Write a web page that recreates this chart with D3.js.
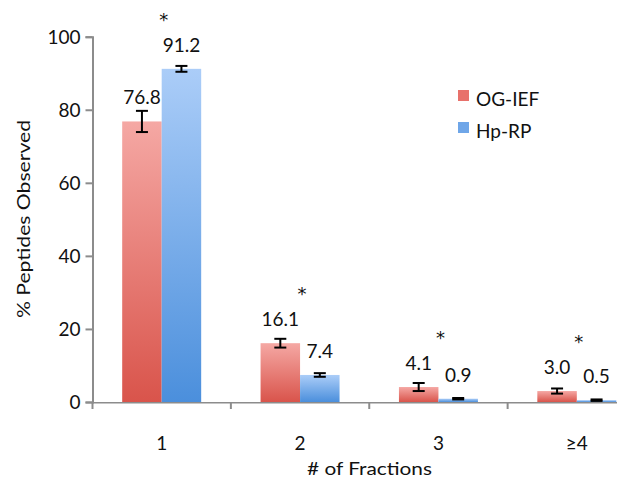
<!DOCTYPE html>
<html>
<head>
<meta charset="utf-8">
<script src="https://cdn.jsdelivr.net/npm/d3@7"></script>
<style>
  body { margin: 0; background: #fff; }
  svg { display: block; font-family: Lato, "Open Sans", sans-serif; }
</style>
</head>
<body>
<svg width="639" height="485"></svg>
<script>
// chart values
var categories = ["1", "2", "3", "\u22654"];
var seriesNames = ["OG-IEF", "Hp-RP"];
var ogIef = [76.8, 16.1, 4.1, 3.0];
var hpRp = [91.2, 7.4, 0.9, 0.5];
var ogIefErr = [2.9, 1.2, 1.1, 0.7];
var hpRpErr = [0.8, 0.5, 0.2, 0.2];
var significant = [true, true, true, true];
var yTicks = [0, 20, 40, 60, 80, 100];

var svg = d3.select("svg");

// gradients, one per series
var defs = svg.append("defs");
var grads = [
  { id: "gRed", top: "#f5a8a4", bottom: "#d9544b", key: "#e8716b" },
  { id: "gBlue", top: "#abcdf8", bottom: "#4b8fdc", key: "#6fa6e8" }
];
grads.forEach(function(g){
  var lg = defs.append("linearGradient").attr("id", g.id)
    .attr("x1", 0).attr("y1", 0).attr("x2", 0).attr("y2", 1);
  lg.append("stop").attr("offset", "0%").attr("stop-color", g.top);
  lg.append("stop").attr("offset", "100%").attr("stop-color", g.bottom);
});
defs.append("clipPath").attr("id", "axisClip")
  .append("rect").attr("x", 0).attr("y", 0).attr("width", 617).attr("height", 485);

var x = d3.scaleBand().domain(categories).range([92.5, 646]).paddingInner(0).paddingOuter(0);
var xs = d3.scaleBand().domain(seriesNames).range([0, x.bandwidth()]).paddingInner(0).paddingOuter(0.752);
var y = d3.scaleLinear().domain([0, 100]).range([402, 36.7]);

var data = [];
categories.forEach(function(c, i){
  data.push({ cat: c, s: "OG-IEF", v: ogIef[i], e: ogIefErr[i], fill: "url(#gRed)" });
  data.push({ cat: c, s: "Hp-RP", v: hpRp[i], e: hpRpErr[i], fill: "url(#gBlue)" });
});

// bars
svg.append("g").selectAll("rect").data(data).enter().append("rect")
  .attr("x", function(d){ return x(d.cat) + xs(d.s); })
  .attr("y", function(d){ return y(d.v); })
  .attr("width", xs.bandwidth())
  .attr("height", function(d){ return y(0) - y(d.v); })
  .attr("fill", function(d){ return d.fill; });

// y axis
var yAxis = svg.append("g").attr("transform", "translate(92.5,0)")
  .call(d3.axisLeft(y).tickValues(yTicks).tickSize(7).tickPadding(5));
yAxis.select(".domain").attr("stroke", "#8c8c8c").attr("stroke-width", 2);
yAxis.selectAll(".tick line").attr("stroke", "#8c8c8c").attr("stroke-width", 2);
yAxis.selectAll(".tick text").attr("font-size", 19).attr("fill", "#111")
  .attr("font-family", "Lato, sans-serif").attr("dy", "0.36em");

// x axis: ticks on category boundaries, labels centred
var xAxis = svg.append("g").attr("transform", "translate(0,402)").attr("clip-path", "url(#axisClip)");
xAxis.call(d3.axisBottom(x).tickSize(0).tickFormat(""));
xAxis.select(".domain").attr("stroke", "#8c8c8c").attr("stroke-width", 2);
xAxis.selectAll(".tick").remove();
xAxis.selectAll("line.bound").data(categories).enter().append("line")
  .attr("class", "bound")
  .attr("x1", function(d){ return x(d); }).attr("x2", function(d){ return x(d); })
  .attr("y1", 0).attr("y2", 7)
  .attr("stroke", "#8c8c8c").attr("stroke-width", 2);
svg.append("g").selectAll("text").data(categories).enter().append("text")
  .attr("x", function(d){ return x(d) + x.bandwidth() / 2; })
  .attr("y", 450)
  .attr("text-anchor", "middle").attr("font-size", 19).attr("fill", "#111")
  .text(function(d){ return d; });

// error bars
var eb = svg.append("g").attr("stroke", "#000").attr("stroke-width", 2);
data.forEach(function(d){
  var cx = x(d.cat) + xs(d.s) + xs.bandwidth() / 2;
  eb.append("line").attr("x1", cx).attr("x2", cx).attr("y1", y(d.v + d.e)).attr("y2", y(d.v - d.e));
  eb.append("line").attr("x1", cx - 6).attr("x2", cx + 6).attr("y1", y(d.v + d.e)).attr("y2", y(d.v + d.e));
  eb.append("line").attr("x1", cx - 6).attr("x2", cx + 6).attr("y1", y(d.v - d.e)).attr("y2", y(d.v - d.e));
});

// value labels
svg.append("g").selectAll("text").data(data).enter().append("text")
  .attr("x", function(d){ return x(d.cat) + xs(d.s) + xs.bandwidth() / 2; })
  .attr("y", function(d){ return y(d.v) - 17; })
  .attr("text-anchor", "middle").attr("font-size", 19).attr("fill", "#111")
  .text(function(d){ return d.v.toFixed(1); });

// significance stars
svg.append("g").selectAll("text").data(categories.filter(function(c, i){ return significant[i]; }))
  .enter().append("text")
  .attr("x", function(d){ return x(d) + x.bandwidth() / 2 + 2; })
  .attr("y", function(d){ var i = categories.indexOf(d); return y(Math.max(ogIef[i], hpRp[i])) - 43; })
  .attr("text-anchor", "middle").attr("font-size", 18).attr("fill", "#111")
  .attr("font-family", "DejaVu Sans, sans-serif")
  .text("*");

// axis titles
svg.append("text")
  .attr("transform", "translate(30,219) rotate(-90)")
  .attr("text-anchor", "middle").attr("font-size", 17.5).attr("fill", "#111")
  .attr("textLength", 198).attr("lengthAdjust", "spacingAndGlyphs")
  .text("% Peptides Observed");
svg.append("text")
  .attr("x", 369.5).attr("y", 475)
  .attr("text-anchor", "middle").attr("font-size", 18).attr("fill", "#111")
  .attr("textLength", 125).attr("lengthAdjust", "spacingAndGlyphs")
  .text("# of Fractions");

// legend
var legend = svg.append("g").attr("transform", "translate(458,90)");
seriesNames.forEach(function(s, i){
  var row = legend.append("g").attr("transform", "translate(0," + (i * 32) + ")");
  row.append("rect").attr("width", 11).attr("height", 11).attr("fill", grads[i].key);
  row.append("text").attr("x", 18).attr("y", 16).attr("font-size", 19).attr("fill", "#111").text(s);
});
</script>
</body>
</html>
